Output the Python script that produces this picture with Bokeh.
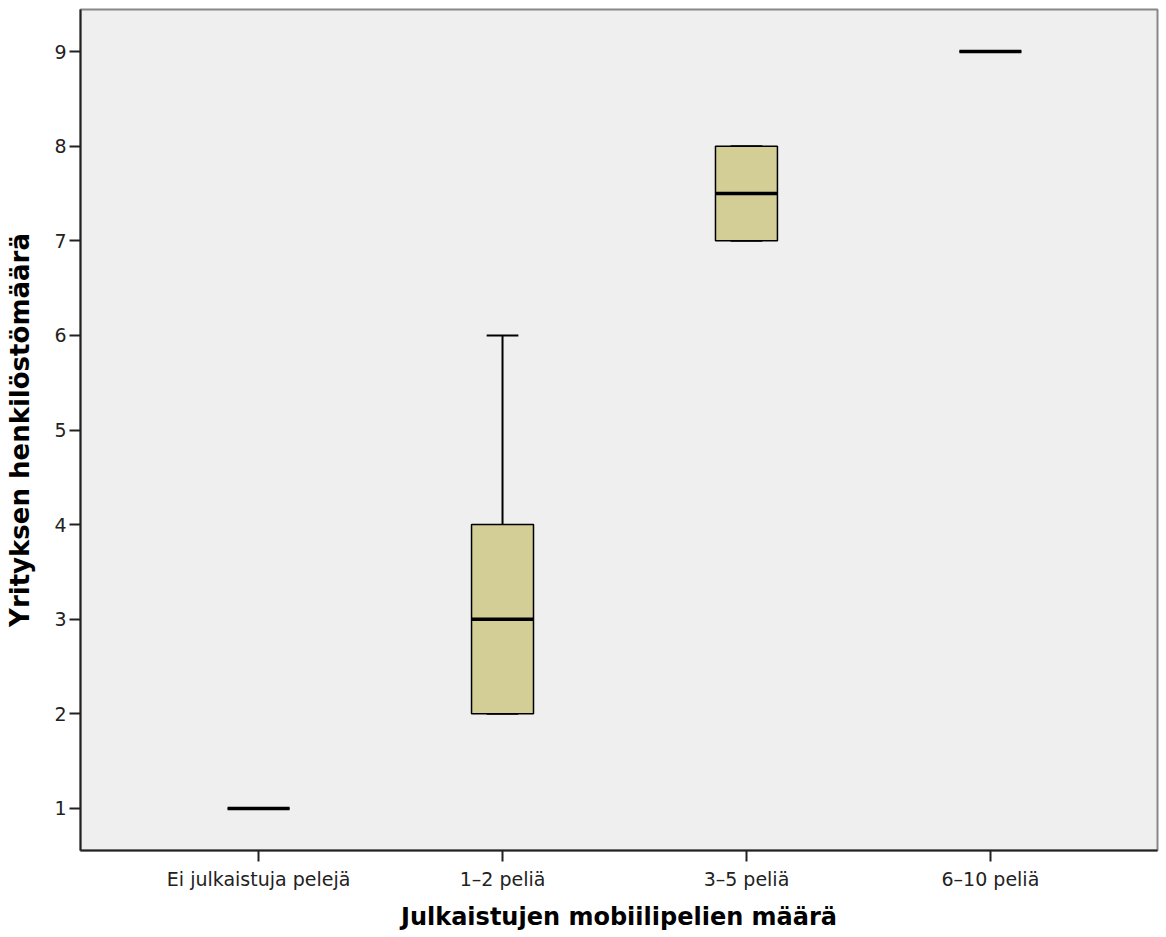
from bokeh.plotting import figure
from bokeh.models import ColumnDataSource, Range1d, FixedTicker
from bokeh.embed import file_html
from bokeh.resources import INLINE

categories = ["Ei julkaistuja pelejä", "1–2 peliä", "3–5 peliä", "6–10 peliä"]
mins = [1, 2, 7, 9]
q1s = [1, 2, 7, 9]
medians = [1, 3, 7.5, 9]
q3s = [1, 4, 8, 9]
maxs = [1, 6, 8, 9]

xs = list(range(1, len(categories) + 1))
box_w = 0.254
cap_w = 0.13

src = ColumnDataSource(dict(
    x=xs, lo=mins, q1=q1s, med=medians, q3=q3s, hi=maxs,
    capl=[x - cap_w / 2 for x in xs], capr=[x + cap_w / 2 for x in xs],
    boxl=[x - box_w / 2 for x in xs], boxr=[x + box_w / 2 for x in xs],
))

p = figure(width=1160, height=935, output_backend="svg", toolbar_location=None,
           x_range=Range1d(0.27, 4.685), y_range=Range1d(0.556, 9.444),
           min_border_left=80, min_border_right=3, min_border_top=9, min_border_bottom=85)
p.background_fill_color = "#EFEFEF"
p.border_fill_color = "white"
p.outline_line_color = "#888888"
p.outline_line_width = 2
p.xgrid.visible = False
p.ygrid.visible = False

# whiskers
p.segment(x0="x", y0="q3", x1="x", y1="hi", source=src, line_color="black", line_width=2)
p.segment(x0="x", y0="q1", x1="x", y1="lo", source=src, line_color="black", line_width=2)
p.segment(x0="capl", y0="hi", x1="capr", y1="hi", source=src, line_color="black", line_width=2)
p.segment(x0="capl", y0="lo", x1="capr", y1="lo", source=src, line_color="black", line_width=2)
# boxes
p.vbar(x="x", width=box_w, bottom="q1", top="q3", source=src,
       fill_color="#D2CE95", line_color="black", line_width=1.5)
# medians
p.segment(x0="boxl", y0="med", x1="boxr", y1="med", source=src, line_color="black", line_width=3.5)

font = "DejaVu Sans"
p.xaxis.ticker = FixedTicker(ticks=xs)
p.xaxis.major_label_overrides = {x: c for x, c in zip(xs, categories)}
p.yaxis.ticker = FixedTicker(ticks=list(range(1, 10)))
for ax in (p.xaxis[0], p.yaxis[0]):
    ax.axis_line_color = "#222222"
    ax.axis_line_width = 2
    ax.major_tick_line_color = "#222222"
    ax.major_tick_line_width = 2
    ax.major_tick_out = 11
    ax.major_tick_in = 0
    ax.minor_tick_line_color = None
    ax.major_label_text_font = font
    ax.major_label_text_font_size = "19px"
    ax.major_label_text_color = "#222222"
    ax.axis_label_text_font = font
    ax.axis_label_text_font_style = "bold"
    ax.axis_label_text_color = "black"

p.xaxis.axis_label = "Julkaistujen mobiilipelien määrä"
p.yaxis.axis_label = "Yrityksen henkilöstömäärä"
p.xaxis.axis_label_text_font_size = "24px"
p.yaxis.axis_label_text_font_size = "26px"
p.xaxis.major_label_standoff = 6
p.xaxis.axis_label_standoff = 10
p.yaxis.major_label_standoff = 3
p.yaxis.axis_label_standoff = 16

open("out.html", "w").write(file_html(p, INLINE))
